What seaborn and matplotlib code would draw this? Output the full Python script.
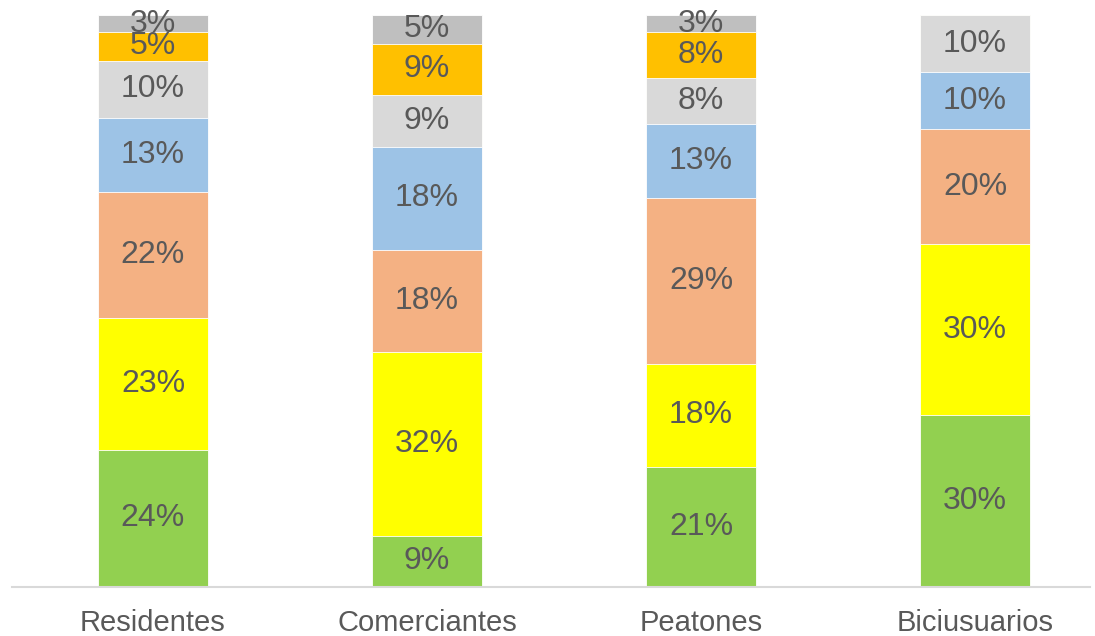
import numpy as np
import pandas as pd
import matplotlib
matplotlib.use("Agg")
import matplotlib.pyplot as plt
import seaborn as sns

categories = ["Residentes", "Comerciantes", "Peatones", "Biciusuarios"]

# segment values, bottom to top
seg_green = [24, 9, 21, 30]
seg_yellow = [23, 32, 18, 30]
seg_salmon = [22, 18, 29, 20]
seg_blue = [13, 18, 13, 10]
seg_lightgrey = [10, 9, 8, 10]
seg_orange = [5, 9, 8, 0]
seg_grey = [3, 5, 3, 0]

segments = [seg_green, seg_yellow, seg_salmon, seg_blue, seg_lightgrey, seg_orange, seg_grey]
colors = ["#92D050", "#FFFF00", "#F4B183", "#9DC3E6", "#D9D9D9", "#FFC000", "#BFBFBF"]
text_color = "#595959"

sns.set_style("white")
plt.rcParams["font.family"] = ["Liberation Sans", "DejaVu Sans"]

vals = np.array(segments, dtype=float)
cum = np.cumsum(vals, axis=0)

fig = plt.figure(figsize=(10.95, 6.36), dpi=100)
ax = fig.add_axes([12 / 1095, 49 / 636, (1090 - 12) / 1095, 572 / 636])

# draw cumulative bars from top down so each segment shows on top of the next
for k in range(len(segments) - 1, -1, -1):
    df = pd.DataFrame({"cat": categories, "val": cum[k]})
    sns.barplot(data=df, x="cat", y="val", color=colors[k], width=0.4,
                edgecolor="white", linewidth=0.6, saturation=1, ax=ax)

for k in range(len(segments)):
    for i, cat in enumerate(categories):
        v = vals[k, i]
        if v <= 0:
            continue
        ymid = cum[k, i] - v / 2
        ax.text(i, ymid, f"{int(v)}%", ha="center", va="center",
                fontsize=23, color=text_color)

ax.set_ylim(0, 100)
ax.set_xlim((12 - 153) / 274, (1090 - 153) / 274)
ax.set_xlabel("")
ax.set_ylabel("")
ax.set_yticks([])
for s in ["top", "left", "right"]:
    ax.spines[s].set_visible(False)
ax.spines["bottom"].set_color("#D9D9D9")
ax.spines["bottom"].set_linewidth(1.5)
ax.tick_params(axis="x", length=0, pad=16, labelsize=21, labelcolor=text_color)

fig.savefig("out.png", dpi=100)
